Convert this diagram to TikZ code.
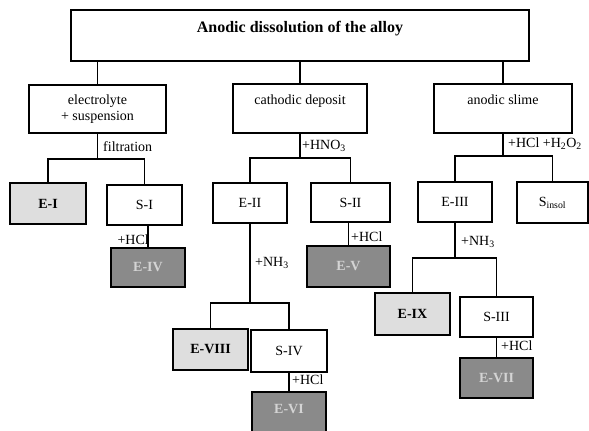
\documentclass[tikz,border=0pt]{standalone}
\usepackage{fontspec}
\setmainfont{Liberation Serif}
\definecolor{lightfill}{HTML}{DEDEDE}
\definecolor{darkfill}{HTML}{8A8A8A}
\definecolor{darktext}{HTML}{D4D4D4}
\tikzset{
  box/.style={draw, line width=1.4pt, rectangle, inner sep=0pt, align=center,
    font=\fontsize{14}{15.5}\selectfont},
  lbox/.style={box, line width=2.4pt, fill=lightfill, font=\fontsize{14}{15.5}\selectfont\bfseries},
  dbox/.style={box, line width=2.4pt, fill=darkfill, text=darktext, font=\fontsize{14}{15.5}\selectfont\bfseries},
  conn/.style={line width=1.4pt},
  lab/.style={inner sep=0pt, font=\fontsize{14}{15.5}\selectfont},
}
\begin{document}
\begin{tikzpicture}[x=1pt,y=-1pt]
\useasboundingbox (0,0) rectangle (589,431);
\fill[white] (0,0) rectangle (589,431);

% level 0
\node[box, minimum width=458pt, minimum height=51pt, text depth=18pt,
      font=\fontsize{16}{18}\selectfont\bfseries] (top) at (300,35.5) {Anodic dissolution of the alloy};

% level 1
\node[box, minimum width=137pt, minimum height=48pt] (el) at (97.5,109) {electrolyte\\+ suspension};
\node[box, minimum width=134pt, minimum height=49pt, text depth=17pt] (cd) at (300,108.5) {cathodic deposit};
\node[box, minimum width=138pt, minimum height=49pt, text depth=17pt] (as) at (503,108.5) {anodic slime};

% level 2
\node[lbox, minimum width=76pt, minimum height=41pt] (e1) at (48,203.5) {E-I};
\node[box, minimum width=75pt, minimum height=40pt] (s1) at (144.5,205) {S-I};
\node[box, minimum width=74pt, minimum height=40pt] (e2) at (250,203) {E-II};
\node[box, minimum width=79pt, minimum height=39pt] (s2) at (350.5,202.5) {S-II};
\node[box, minimum width=74pt, minimum height=40pt] (e3) at (455,202) {E-III};
\node[box, minimum width=71pt, minimum height=41pt] (sin) at (552.5,202.5) {S\textsubscript{insol}};

% level 3
\node[dbox, minimum width=74pt, minimum height=39pt] (e4) at (148,267.5) {E-IV};
\node[dbox, minimum width=83pt, minimum height=41pt] (e5) at (348.5,266.5) {E-V};
\node[lbox, minimum width=75pt, minimum height=42pt] (e9) at (412.5,314) {E-IX};
\node[box, minimum width=73pt, minimum height=40pt] (s3) at (496.5,317) {S-III};
\node[dbox, minimum width=73pt, minimum height=40pt] (e7) at (496.5,378) {E-VII};
\node[lbox, minimum width=75pt, minimum height=41pt] (e8) at (210.5,349.5) {E-VIII};
\node[box, minimum width=76pt, minimum height=42pt] (s4) at (289,351) {S-IV};
\node[dbox, minimum width=74pt, minimum height=42pt, text depth=8pt] (e6) at (289,413) {E-VI};

% connectors from top
\draw[conn] (el.north) -- (el.north |- top.south);
\draw[conn] (cd.north) -- (cd.north |- top.south);
\draw[conn] (as.north) -- (as.north |- top.south);

% electrolyte bracket
\draw[conn] (el.south) -- (el.south |- 0,159);
\draw[conn] (e1.north) |- (s1.north |- 0,159) -- (s1.north);
\node[lab, anchor=west] (lf) at (103,147) {filtration};

% cathodic bracket
\draw[conn] (cd.south) -- (cd.south |- 0,158);
\draw[conn] (e2.north) |- (s2.north |- 0,158) -- (s2.north);
\node[lab, anchor=west] (lhno) at (302,146) {+HNO\textsubscript{3}};

% anodic bracket
\draw[conn] (as.south) -- (as.south |- 0,156);
\draw[conn] (e3.north) |- (sin.north |- 0,156) -- (sin.north);
\node[lab, anchor=west] (lhh) at (508,144) {+HCl +H\textsubscript{2}O\textsubscript{2}};

% S-I -> E-IV
\draw[conn] (e4.north) -- (e4.north |- s1.south);
\node[lab, anchor=east] (lh1) at (149,240) {+HCl};

% S-II -> E-V
\draw[conn] (e5.north) -- (e5.north |- s2.south);
\node[lab, anchor=west] (lh2) at (351,237) {+HCl};

% E-II bracket
\draw[conn] (e2.south) -- (e2.south |- 0,303);
\draw[conn] (e8.north) |- (s4.north |- 0,303) -- (s4.north);
\node[lab, anchor=west] (ln1) at (255,263) {+NH\textsubscript{3}};

% S-IV -> E-VI
\draw[conn] (e6.north) -- (e6.north |- s4.south);
\node[lab, anchor=west] (lh3) at (292,380) {+HCl};

% E-III bracket
\draw[conn] (e3.south) -- (e3.south |- 0,258);
\draw[conn] (e9.north) |- (s3.north |- 0,258) -- (s3.north);
\node[lab, anchor=west] (ln2) at (461,242) {+NH\textsubscript{3}};

% S-III -> E-VII
\draw[conn] (e7.north) -- (s3.south);
\node[lab, anchor=west] (lh4) at (501,346) {+HCl};
\end{tikzpicture}
\end{document}
